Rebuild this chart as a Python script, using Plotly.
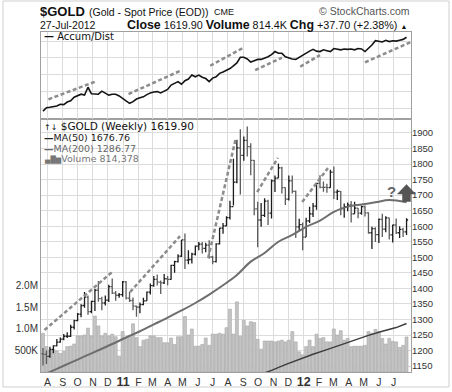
import plotly.graph_objects as go
import pandas as pd

# ---------------- data ----------------
week_ending = pd.date_range("2010-07-23", periods=106, freq="7D")

opens = [1190,1188,1181,1204,1215,1227,1237,1246,1246,1275,
         1296,1317,1345,1372,1325,1358,1394,1367,1353,1362,
         1406,1385,1378,1380,1421,1369,1361,1343,1340,1348,
         1360,1388,1409,1429,1420,1418,1431,1429,1474,1486,
         1504,1556,1491,1493,1510,1536,1542,1529,1539,1501,
         1486,1543,1594,1601,1628,1663,1742,1852,1828,1876,
         1856,1812,1656,1620,1635,1681,1642,1746,1755,1788,
         1724,1687,1746,1712,1598,1605,1565,1617,1640,1665,
         1738,1725,1725,1724,1774,1710,1712,1657,1663,1669,
         1640,1658,1642,1663,1643,1579,1592,1573,1622,1591,
         1627,1572,1604,1579,1590,1582]
highs = [1208,1200,1212,1217,1237,1242,1253,1259,1283,1299,
         1321,1349,1388,1377,1360,1398,1424,1373,1377,1412,
         1432,1392,1385,1424,1424,1388,1371,1345,1355,1370,
         1390,1416,1440,1445,1425,1446,1440,1476,1489,1510,
         1556,1577,1523,1515,1538,1549,1549,1547,1555,1505,
         1545,1595,1610,1632,1682,1817,1878,1912,1889,1921,
         1867,1813,1679,1675,1690,1685,1750,1763,1802,1791,
         1725,1763,1763,1715,1624,1612,1627,1663,1675,1740,
         1764,1744,1737,1782,1792,1718,1713,1673,1676,1681,
         1679,1659,1667,1667,1645,1598,1597,1625,1640,1632,
         1627,1605,1625,1600,1595,1626]
lows = [1152,1157,1177,1191,1214,1225,1233,1240,1244,1268,
        1294,1307,1338,1315,1320,1327,1357,1330,1345,1356,
        1382,1360,1370,1373,1364,1356,1330,1309,1320,1346,
        1360,1380,1405,1409,1382,1414,1410,1428,1450,1483,
        1501,1462,1478,1480,1506,1523,1512,1516,1495,1478,
        1483,1541,1576,1600,1622,1667,1738,1702,1811,1824,
        1764,1635,1532,1598,1630,1604,1625,1710,1755,1705,
        1668,1683,1705,1562,1585,1523,1565,1610,1630,1653,
        1722,1711,1708,1724,1688,1684,1635,1627,1648,1612,
        1640,1626,1637,1631,1576,1527,1549,1546,1565,1581,
        1557,1548,1575,1562,1565,1572]
closes = [1188,1181,1204,1215,1227,1237,1246,1246,1275,1296,
          1317,1345,1372,1325,1358,1394,1367,1353,1362,1406,
          1385,1378,1380,1421,1369,1361,1343,1340,1348,1360,
          1388,1409,1429,1420,1418,1431,1429,1474,1486,1504,
          1556,1491,1493,1510,1536,1542,1529,1539,1501,1486,
          1543,1594,1601,1628,1663,1742,1852,1828,1876,1856,
          1812,1656,1620,1635,1681,1642,1746,1755,1788,1724,
          1687,1746,1712,1598,1605,1565,1617,1640,1665,1738,
          1725,1725,1724,1774,1710,1712,1657,1663,1669,1640,
          1658,1642,1663,1643,1579,1592,1573,1622,1591,1627,
          1572,1604,1579,1590,1582,1620]
# weekly volume, millions
volumes = [0.90,0.59,0.51,0.53,0.49,0.43,0.48,0.59,0.60,0.65,
           0.84,0.84,0.86,1.02,0.84,1.30,1.07,0.84,0.90,0.84,
           0.88,0.82,0.37,0.94,0.78,0.80,1.12,0.80,0.59,0.74,
           0.76,0.84,0.84,0.80,0.80,0.68,0.68,0.79,0.64,0.82,
           0.82,1.29,0.86,1.00,0.60,0.60,0.64,0.79,0.62,0.88,
           0.88,0.90,0.88,1.03,1.46,0.88,1.63,0.83,1.20,1.07,
           1.17,1.15,0.76,0.53,0.72,0.72,0.72,0.70,0.72,0.74,
           0.70,0.74,0.94,0.70,0.47,0.40,0.59,0.74,0.59,0.88,
           0.78,0.80,0.70,0.70,1.00,0.86,0.96,0.74,0.78,0.59,
           0.60,0.60,0.60,0.62,0.94,0.90,0.99,0.94,0.78,0.65,
           0.78,0.71,0.70,0.57,0.62,0.814]
# Accumulation / Distribution (relative units)
ad_values = [9,13,13.5,14.5,15,17,16.5,19.5,21,25,
             26.5,28.5,27.5,36.5,29,28.5,28.5,32,30,27.5,
             28.5,28.5,26.5,24,21,18,20,23,24.5,25.5,
             28,30,31,31.5,30,32.5,34,39,41,43,
             40,44,46,50.5,48.5,50.5,48,46.5,43,47,
             48.5,52.5,54,56,58,61,64.5,71,71,69,
             65.5,67,68.5,68.5,70,71.5,74,77.5,75.5,75.5,
             71.5,70,69,68.5,71,73,76,78,80,78,
             77.5,79.5,78.5,77.5,81,80,79.5,80.5,80,80.5,
             79.5,81,80.5,77.5,81,85,90,89,88.5,90.5,
             89,90,89.5,90.5,91.5,94]

ma50_dates = ["2010-07-23","2010-08-20","2010-09-17","2010-10-15","2010-11-12","2010-12-10",
              "2011-01-07","2011-02-04","2011-03-04","2011-04-01","2011-04-29","2011-05-27",
              "2011-06-24","2011-07-22","2011-08-19","2011-09-16","2011-10-14","2011-11-11",
              "2011-12-09","2012-01-06","2012-02-03","2012-03-02","2012-03-30","2012-04-27",
              "2012-05-25","2012-06-22","2012-07-27"]
ma50_values = [1121,1141,1161,1181,1201,1221,1242,1262,1284,1306,1329,1353,
               1380,1410,1443,1486,1514,1550,1572,1598,1618,1646,1663,1670,
               1677,1684,1677]
ma200_dates = ["2011-10-14","2011-10-28","2011-11-25","2011-12-23","2012-01-20","2012-02-17",
               "2012-03-16","2012-04-13","2012-05-11","2012-06-08","2012-07-06","2012-07-27"]
ma200_values = [1128,1136,1155,1172,1188,1203,1219,1234,1249,1262,1274,1287]

price_trendlines = [("2010-07-26",1266,"2010-12-10",1453),
                    ("2011-01-15",1388,"2011-04-26",1568),
                    ("2011-06-22",1498,"2011-08-17",1884),
                    ("2011-09-29",1710,"2011-11-10",1820),
                    ("2011-12-29",1678,"2012-02-19",1787)]
ad_trendlines = [("2010-08-03",22.6,"2010-11-09",43.7),
                 ("2011-01-12",28.7,"2011-04-27",55.5),
                 ("2011-06-26",61.2,"2011-09-01",81.9),
                 ("2011-09-25",56.3,"2011-11-18",70.4),
                 ("2011-12-25",60.1,"2012-02-03",73.5),
                 ("2012-05-04",65.1,"2012-08-05",88.5)]

month_ticks = pd.date_range("2010-08-01", "2012-07-01", freq="MS")
month_labels = ["A","S","O","N","D","11","F","M","A","M","J","J",
                "A","S","O","N","D","12","F","M","A","M","J","J"]
price_ticks = list(range(1150, 1901, 50))
vol_ticks = [0.5, 1.0, 1.5, 2.0]
vol_tick_labels = ["500K", "1.0M", "1.5M", "2.0M"]

# ---------------- styling ----------------
W, H = 452, 392
L, R, T, B = 41, 41, 32, 20
def PX(x): return (x - L) / (W - L - R)
def PY(y): return (H - B - y) / (H - T - B)

GRID = "#dcdcdc"
BORDER = "#a0a0a0"
ARIAL = "Liberation Sans, Arial, sans-serif"
VERD = "DejaVu Sans, Verdana, sans-serif"
X_RANGE = ["2010-07-19", "2012-08-05"]
split = PY(119)

fig = go.Figure()
fig.add_trace(go.Bar(x=week_ending, y=volumes, xaxis="x", yaxis="y",
                     marker=dict(color="#c4c4c4", line=dict(color="#a6a6a6", width=0.6)),
                     width=6 * 86400000))
fig.add_trace(go.Scatter(x=ma200_dates, y=ma200_values, xaxis="x", yaxis="y2", mode="lines",
                         line=dict(color="#3c3c3c", width=1.4)))
fig.add_trace(go.Scatter(x=ma50_dates, y=ma50_values, xaxis="x", yaxis="y2", mode="lines",
                         line=dict(color="#6e6e6e", width=2, shape="spline")))
for d0, v0, d1, v1 in price_trendlines:
    fig.add_trace(go.Scatter(x=[d0, d1], y=[v0, v1], xaxis="x", yaxis="y2", mode="lines",
                             line=dict(color="#8c8c8c", width=2.5, dash="4px,2.5px")))
fig.add_trace(go.Ohlc(x=week_ending, open=opens, high=highs, low=lows, close=closes,
                      xaxis="x", yaxis="y2", tickwidth=0.45,
                      increasing=dict(line=dict(color="#1c1c1c", width=1.3)),
                      decreasing=dict(line=dict(color="#5c5c5c", width=1.3))))
for d0, v0, d1, v1 in ad_trendlines:
    fig.add_trace(go.Scatter(x=[d0, d1], y=[v0, v1], xaxis="x2", yaxis="y3", mode="lines",
                             line=dict(color="#8c8c8c", width=2.5, dash="4px,2.5px")))
fig.add_trace(go.Scatter(x=week_ending, y=ad_values, xaxis="x2", yaxis="y3", mode="lines",
                         line=dict(color="#141414", width=1.6)))

tick_text = [f'<span style="font-size:12.5px"><b>{t}</b></span>' if t.isdigit() else t
             for t in month_labels]

fig.update_layout(
    width=W, height=H, margin=dict(l=L, r=R, t=T, b=B, autoexpand=False),
    paper_bgcolor="white", plot_bgcolor="white", showlegend=False, hovermode=False,
    bargap=0,
    xaxis=dict(domain=[0, 1], anchor="y", type="date", range=X_RANGE, automargin=False,
               tickmode="array", tickvals=month_ticks, ticktext=tick_text,
               showgrid=True, gridcolor=GRID, showline=True, linecolor=BORDER, mirror=True,
               ticks="", zeroline=False, rangeslider=dict(visible=False),
               tickfont=dict(family=ARIAL, size=10.5, color="#333")),
    yaxis=dict(domain=[0, split], anchor="x", range=[0, 5.88], tickmode="array",
               automargin=False,
               tickvals=vol_ticks, ticktext=vol_tick_labels, showgrid=False,
               showline=True, linecolor=BORDER, mirror=True, zeroline=False, ticks="",
               tickfont=dict(family=ARIAL, size=10, color="#333")),
    yaxis2=dict(overlaying="y", anchor="x", side="right", range=[1131, 1945],
                automargin=False,
                tickmode="array", tickvals=price_ticks, showgrid=True, gridcolor=GRID,
                zeroline=False, ticks="", showline=False,
                tickfont=dict(family=ARIAL, size=9.5, color="#333")),
    xaxis2=dict(domain=[0, 1], anchor="y3", type="date", range=X_RANGE, automargin=False,
                tickmode="array", tickvals=month_ticks, showticklabels=False,
                showgrid=True, gridcolor=GRID, showline=True, linecolor=BORDER, mirror=True,
                ticks="", zeroline=False),
    yaxis3=dict(domain=[split, 1], anchor="x2", range=[0, 100], showticklabels=False,
                automargin=False,
                tickmode="linear", tick0=12.6, dtick=19.2, showgrid=True, gridcolor=GRID,
                showline=True, linecolor=BORDER, mirror=True, zeroline=False, ticks=""),
)

ann = []
def add_text(x, y, text, size, family=ARIAL, color="#111", xanchor="left"):
    ann.append(dict(xref="paper", yref="paper", x=PX(x), y=PY(y), text=text, showarrow=False,
                    xanchor=xanchor, yanchor="middle",
                    font=dict(family=family, size=size, color=color)))

add_text(38, 11, "<b>$GOLD</b>", 13)
add_text(87, 12, "(Gold - Spot Price (EOD))", 10.5)
add_text(212, 12.5, "CME", 9)
add_text(412, 11.5, "© StockCharts.com", 10.5, color="#555", xanchor="right")
add_text(38, 25, "27-Jul-2012", 10.5)
add_text(409, 25,
         '<span style="font-size:12.4px"><b>Close</b></span> 1619.90 '
         '<span style="font-size:12.4px"><b>Volume</b></span> 814.4K '
         '<span style="font-size:12.4px"><b>Chg</b></span> +37.70 (+2.38%) '
         '<span style="font-size:7px">▲</span>', 10.8, xanchor="right")
# panel legends
add_text(42, 37, "<b>—</b> Accum/Dist", 10, family=VERD, color="#111")
add_text(42, 125.5, '<span style="font-size:8px">↑↓</span> $GOLD (Weekly) 1619.90', 10.5, family=VERD)
add_text(42, 137, "<b>—</b>MA(50) 1676.76", 9.5, family=VERD, color="#222")
add_text(42, 148, "<b>—</b>MA(200) 1286.77", 9.5, family=VERD, color="#666")
add_text(42, 158.5, '<span style="font-size:7px">▄█▆</span>Volume 814,378', 9.5, family=VERD, color="#777")
add_text(391.5, 191, "<b>?</b>", 15, color="#666", xanchor="center")
fig.update_layout(annotations=ann)

arrow = [(406.5, 184.5), (415.5, 194), (410.5, 194), (410.5, 201.5),
         (402.5, 201.5), (402.5, 194), (397.5, 194)]
path = "M " + " L ".join(f"{PX(x):.5f},{PY(y):.5f}" for x, y in arrow) + " Z"
fig.add_shape(type="path", xref="paper", yref="paper", path=path,
              fillcolor="#555555", line=dict(color="#555555", width=0.5))
fig.add_shape(type="rect", xref="paper", yref="paper", x0=PX(3), x1=PX(449), y0=PY(387), y1=PY(1),
              line=dict(color="#cfcfcf", width=1), layer="below")

fig.write_html("out.html",
               config={"displayModeBar": False, "staticPlot": True},
               post_script="document.body.style.margin='0px';"
                           "document.documentElement.style.overflow='hidden';")
